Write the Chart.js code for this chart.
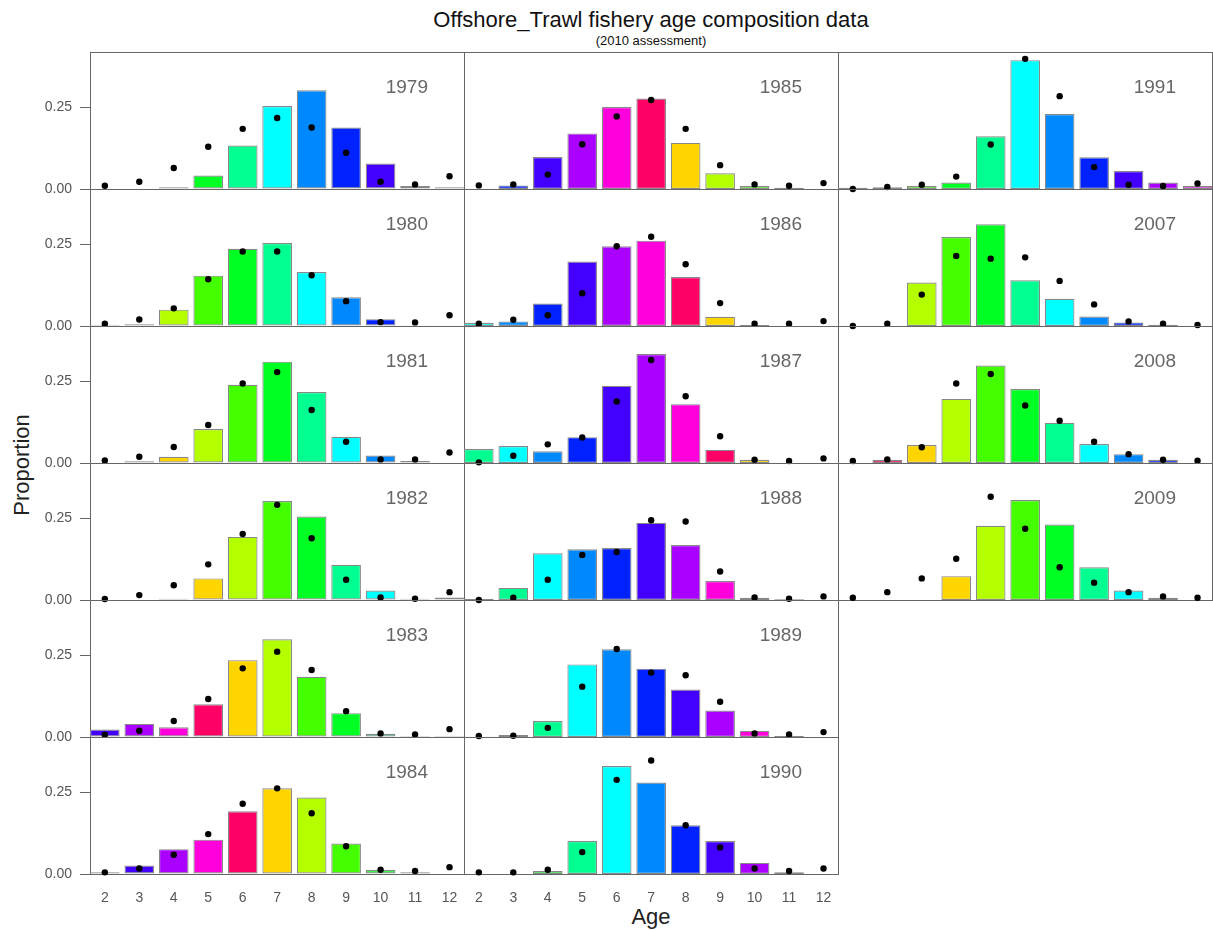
<!DOCTYPE html>
<html>
<head>
<meta charset="utf-8">
<script src="https://cdn.jsdelivr.net/npm/chart.js@4.4.0/dist/chart.umd.min.js"></script>
<style>
  body { margin: 0; background: #fff; font-family: "Liberation Sans", Arial, sans-serif; }
  #page { position: relative; width: 1213px; height: 930px; overflow: hidden; }
  .panel { position: absolute; }
  .yr { position: absolute; font-size: 19px; color: #666; text-align: right; line-height: 20px; }
  #title { position: absolute; left: 0; width: 1302px; top: 7px; text-align: center; font-size: 22px; line-height: 26px; color: #111; }
  #sub { position: absolute; left: 0; width: 1302px; top: 34px; text-align: center; font-size: 13px; line-height: 14px; color: #111; }
  #xlab { position: absolute; left: 0; width: 1302px; top: 905px; text-align: center; font-size: 22px; line-height: 24px; color: #222; }
  #ylab { position: absolute; left: 22px; top: 465px; font-size: 22px; line-height: 24px; color: #222;
          transform: translate(-50%, -50%) rotate(-90deg); white-space: nowrap; }
</style>
</head>
<body>
<div id="page">
  <div id="title">Offshore_Trawl fishery age composition data</div>
  <div id="sub">(2010 assessment)</div>
  <div id="xlab">Age</div>
  <div id="ylab">Proportion</div>
</div>
<script>
// ages on the x axis
const ages = [2, 3, 4, 5, 6, 7, 8, 9, 10, 11, 12];
const yTicks = [0, 0.25];

// observed (bars) and expected (dots) proportions, ages 2..12
const obs1979 = [0, 0, 0.005, 0.041, 0.133, 0.254, 0.302, 0.188, 0.078, 0.009, 0.005];
const exp1979 = [0.010, 0.022, 0.064, 0.129, 0.184, 0.217, 0.188, 0.111, 0.022, 0.014, 0.039];
const obs1980 = [0.004, 0.005, 0.050, 0.154, 0.236, 0.254, 0.165, 0.088, 0.021, 0.001, 0];
const exp1980 = [0.007, 0.020, 0.054, 0.143, 0.228, 0.228, 0.155, 0.076, 0.012, 0.011, 0.033];
const obs1981 = [0, 0.005, 0.019, 0.104, 0.239, 0.310, 0.217, 0.080, 0.023, 0.006, 0];
const exp1981 = [0.008, 0.019, 0.049, 0.116, 0.243, 0.278, 0.162, 0.065, 0.011, 0.011, 0.032];
const obs1982 = [0, 0, 0.004, 0.066, 0.193, 0.303, 0.255, 0.108, 0.029, 0.004, 0.008];
const exp1982 = [0.003, 0.015, 0.045, 0.109, 0.202, 0.291, 0.189, 0.062, 0.008, 0.004, 0.024];
const obs1983 = [0.023, 0.040, 0.030, 0.100, 0.235, 0.299, 0.184, 0.073, 0.010, 0.003, 0.003];
const exp1983 = [0.007, 0.019, 0.049, 0.116, 0.210, 0.261, 0.205, 0.079, 0.011, 0.008, 0.024];
const obs1984 = [0.005, 0.026, 0.076, 0.105, 0.192, 0.262, 0.234, 0.093, 0.012, 0.005, 0];
const exp1984 = [0.005, 0.017, 0.059, 0.122, 0.215, 0.262, 0.186, 0.085, 0.013, 0.009, 0.021];
const obs1985 = [0.001, 0.011, 0.098, 0.170, 0.251, 0.277, 0.141, 0.048, 0.009, 0.004, 0];
const exp1985 = [0.011, 0.014, 0.044, 0.137, 0.222, 0.272, 0.184, 0.073, 0.014, 0.010, 0.018];
const obs1986 = [0.010, 0.014, 0.069, 0.197, 0.244, 0.261, 0.150, 0.028, 0.003, 0, 0];
const exp1986 = [0.007, 0.019, 0.033, 0.100, 0.244, 0.273, 0.189, 0.070, 0.007, 0.007, 0.015];
const obs1987 = [0.043, 0.052, 0.036, 0.079, 0.236, 0.333, 0.180, 0.040, 0.010, 0, 0];
const exp1987 = [0.002, 0.022, 0.057, 0.078, 0.188, 0.315, 0.204, 0.082, 0.010, 0.006, 0.014];
const obs1988 = [0.003, 0.037, 0.143, 0.155, 0.159, 0.236, 0.168, 0.058, 0.007, 0.002, 0];
const exp1988 = [0, 0.007, 0.062, 0.138, 0.147, 0.244, 0.240, 0.087, 0.008, 0.004, 0.011];
const obs1989 = [0.001, 0.006, 0.049, 0.222, 0.268, 0.209, 0.145, 0.081, 0.019, 0.003, 0];
const exp1989 = [0.003, 0.004, 0.028, 0.154, 0.269, 0.197, 0.189, 0.108, 0.011, 0.008, 0.015];
const obs1990 = [0, 0, 0.009, 0.101, 0.330, 0.280, 0.149, 0.101, 0.034, 0.005, 0];
const exp1990 = [0.005, 0.005, 0.013, 0.067, 0.288, 0.347, 0.149, 0.081, 0.017, 0.009, 0.017];
const obs1991 = [0.004, 0.005, 0.009, 0.020, 0.161, 0.394, 0.229, 0.097, 0.055, 0.020, 0.009];
const exp1991 = [0, 0.006, 0.013, 0.038, 0.136, 0.398, 0.284, 0.067, 0.013, 0.009, 0.017];
const obs2007 = [0, 0, 0.133, 0.272, 0.311, 0.140, 0.083, 0.029, 0.011, 0.004, 0];
const exp2007 = [0, 0.007, 0.096, 0.214, 0.206, 0.210, 0.138, 0.066, 0.014, 0.007, 0.003];
const obs2008 = [0, 0.010, 0.055, 0.196, 0.298, 0.226, 0.123, 0.058, 0.027, 0.010, 0];
const exp2008 = [0.006, 0.011, 0.048, 0.243, 0.272, 0.176, 0.129, 0.065, 0.027, 0.010, 0.007];
const obs2009 = [0, 0, 0, 0.073, 0.227, 0.306, 0.231, 0.100, 0.029, 0.007, 0];
const exp2009 = [0.007, 0.024, 0.066, 0.126, 0.316, 0.218, 0.100, 0.053, 0.024, 0.011, 0.007];

const years = [1979, 1980, 1981, 1982, 1983, 1984, 1985, 1986, 1987, 1988, 1989, 1990, 1991, 2007, 2008, 2009];
const observed = [obs1979, obs1980, obs1981, obs1982, obs1983, obs1984, obs1985, obs1986,
                  obs1987, obs1988, obs1989, obs1990, obs1991, obs2007, obs2008, obs2009];
const expected = [exp1979, exp1980, exp1981, exp1982, exp1983, exp1984, exp1985, exp1986,
                  exp1987, exp1988, exp1989, exp1990, exp1991, exp2007, exp2008, exp2009];

// layout of the panel grid
const panelCol = [0, 0, 0, 0, 0, 0, 1, 1, 1, 1, 1, 1, 2, 2, 2, 2];
const panelRow = [0, 1, 2, 3, 4, 5, 0, 1, 2, 3, 4, 5, 0, 1, 2, 3];
const colLeft = [90, 464, 838];
const rowTop0 = 52, panelW = 374, panelH = 137;
const yLeftRoom = 70, xBottomRoom = 40;

// colours cycle by cohort (year - age)
const palette = ['#00ffff', '#00ff90', '#00ff22', '#44ff00', '#b3ff00', '#ffd500',
                 '#ff0066', '#ff00dd', '#aa00ff', '#4400ff', '#0022ff', '#0088ff'];
function cohortColour(cohort) {
  const base = cohort >= 1990 ? 1999 : 1960;
  return palette[((cohort - base) % 12 + 12) % 12];
}

const framePlugin = {
  id: 'frame',
  beforeDatasetsDraw(chart) {
    const a = chart.chartArea, ctx = chart.ctx;
    ctx.save();
    ctx.strokeStyle = '#666';
    ctx.lineWidth = 1;
    ctx.strokeRect(Math.round(a.left) + 0.5, Math.round(a.top) + 0.5,
                   Math.round(a.right - a.left), Math.round(a.bottom - a.top));
    ctx.restore();
  }
};

const page = document.getElementById('page');

years.forEach((yr, i) => {
  const col = panelCol[i], row = panelRow[i];
  const left = colLeft[col], top = rowTop0 + row * panelH;
  const showY = col === 0;
  const showX = (col === 0 && row === 5) || (col === 1 && row === 5);

  const box = document.createElement('div');
  box.className = 'panel';
  box.style.left = (left - yLeftRoom) + 'px';
  box.style.top = (top - 1) + 'px';
  const cv = document.createElement('canvas');
  cv.width = yLeftRoom + panelW + 2;
  cv.height = 1 + panelH + xBottomRoom;
  box.appendChild(cv);
  page.appendChild(box);

  const lab = document.createElement('div');
  lab.className = 'yr';
  lab.style.left = left + 'px';
  lab.style.width = (panelW - 36) + 'px';
  lab.style.top = (top + 25) + 'px';
  lab.textContent = String(yr);
  page.appendChild(lab);

  new Chart(cv, {
    type: 'bar',
    data: {
      datasets: [
        {
          type: 'line',
          data: ages.map((a, k) => ({ x: a, y: expected[i][k] })),
          showLine: false,
          pointRadius: 3.2,
          pointBackgroundColor: '#000',
          pointBorderWidth: 0,
          clip: false,
          order: 1
        },
        {
          type: 'bar',
          data: ages.map((a, k) => ({ x: a, y: observed[i][k] })),
          backgroundColor: ages.map(a => cohortColour(yr - a)),
          borderColor: '#888',
          borderWidth: 1.2,
          borderSkipped: false,
          barPercentage: 0.86,
          categoryPercentage: 1,
          order: 2
        }
      ]
    },
    options: {
      responsive: false,
      animation: false,
      events: [],
      layout: { autoPadding: false, padding: { top: 1, right: 2, left: 0, bottom: 0 } },
      plugins: { legend: { display: false }, tooltip: { enabled: false } },
      scales: {
        x: {
          type: 'linear',
          offset: false,
          min: 1.57,
          max: 12.42,
          afterBuildTicks: s => { s.ticks = ages.map(v => ({ value: v })); },
          afterFit: s => { s.height = xBottomRoom; s.paddingLeft = 0; s.paddingRight = 0; },
          grid: { display: false, drawTicks: false, offset: false },
          border: { display: false },
          ticks: {
            display: showX,
            autoSkip: false,
            maxRotation: 0,
            padding: 16,
            color: '#555',
            font: { family: '"Liberation Sans", Arial, sans-serif', size: 14 },
            callback: v => String(v)
          }
        },
        y: {
          min: 0,
          max: 0.419,
          afterBuildTicks: s => { s.ticks = yTicks.map(v => ({ value: v })); },
          afterFit: s => { s.width = yLeftRoom; s.paddingTop = 0; s.paddingBottom = 0; },
          grid: { display: showY, drawOnChartArea: false, drawTicks: true, tickLength: 10, color: '#666' },
          border: { display: false },
          ticks: {
            display: showY,
            padding: 8,
            color: '#555',
            font: { family: '"Liberation Sans", Arial, sans-serif', size: 14 },
            callback: v => v.toFixed(2)
          }
        }
      }
    },
    plugins: [framePlugin]
  });
});
</script>
</body>
</html>
